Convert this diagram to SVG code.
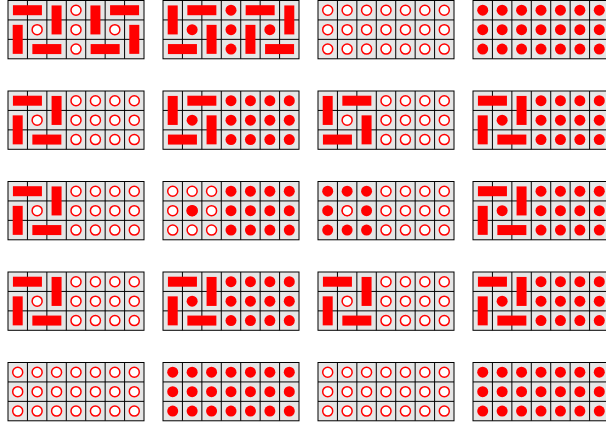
<svg xmlns="http://www.w3.org/2000/svg" xmlns:xlink="http://www.w3.org/1999/xlink" width="606" height="426" viewBox="0 0 606 426">
<style>
.bg{fill:#e6e6e6;stroke:#000;stroke-width:1}
.ln{stroke:#000;stroke-width:1}
.o{fill:#fff;stroke:#f00;stroke-width:1.5}
.f{fill:#f00}
.bar{fill:#f00}
</style>
<defs>
<g id="grid">
<rect class="bg" x="0" y="0" width="136" height="58.29"/>
<path class="ln" d="M19.43 0V58.29M38.86 0V58.29M58.29 0V58.29M77.72 0V58.29M97.15 0V58.29M116.58 0V58.29M0 19.43H136M0 38.86H136"/>
</g>
<circle id="o" class="o" r="5"/>
<circle id="f" class="f" r="5.5"/>
<rect id="h" class="bar" x="-14.5" y="-5" width="29" height="10"/>
<rect id="v" class="bar" x="-5" y="-14.5" width="10" height="29"/>
<g id="A">
<use href="#h" x="19.43" y="9.71"/><use href="#v" x="48.57" y="19.43"/><use href="#v" x="9.71" y="38.86"/><use href="#h" x="38.86" y="48.57"/>
</g>
<g id="B">
<use href="#v" x="9.71" y="19.43"/><use href="#h" x="38.86" y="9.71"/><use href="#v" x="48.57" y="38.86"/><use href="#h" x="19.43" y="48.57"/>
</g>
<g id="Am">
<use href="#h" x="116.58" y="9.71"/><use href="#v" x="87.43" y="19.43"/><use href="#v" x="126.29" y="38.86"/><use href="#h" x="97.15" y="48.57"/>
</g>
<g id="Bm">
<use href="#v" x="126.29" y="19.43"/><use href="#h" x="97.15" y="9.71"/><use href="#v" x="87.43" y="38.86"/><use href="#h" x="116.58" y="48.57"/>
</g>
<g id="colO3"><use href="#o" x="68" y="9.71"/><use href="#o" x="68" y="29.14"/><use href="#o" x="68" y="48.57"/></g>
<g id="colF3"><use href="#f" x="68" y="9.71"/><use href="#f" x="68" y="29.14"/><use href="#f" x="68" y="48.57"/></g>
<g id="rO"><use href="#colO3"/><use href="#colO3" x="19.43"/><use href="#colO3" x="38.86"/><use href="#colO3" x="58.29"/></g>
<g id="rF"><use href="#colF3"/><use href="#colF3" x="19.43"/><use href="#colF3" x="38.86"/><use href="#colF3" x="58.29"/></g>
<g id="lO"><use href="#colO3" x="-58.29"/><use href="#colO3" x="-38.86"/><use href="#colO3" x="-19.43"/></g>
<g id="lF"><use href="#colF3" x="-58.29"/><use href="#colF3" x="-38.86"/><use href="#colF3" x="-19.43"/></g>
</defs>

<g id="g11" transform="translate(8,0.5)"><use href="#grid"/><use href="#A"/><use href="#Am"/><use href="#colO3"/><use href="#o" x="29.14" y="29.14"/><use href="#o" x="106.86" y="29.14"/></g>
<g id="g12" transform="translate(163,0.5)"><use href="#grid"/><use href="#B"/><use href="#Bm"/><use href="#colF3"/><use href="#f" x="29.14" y="29.14"/><use href="#f" x="106.86" y="29.14"/></g>
<g id="g13" transform="translate(318,0.5)"><use href="#grid"/><use href="#lO"/><use href="#rO"/></g>
<g id="g14" transform="translate(473,0.5)"><use href="#grid"/><use href="#lF"/><use href="#rF"/></g>

<g id="g21" transform="translate(8,91)"><use href="#grid"/><use href="#A"/><use href="#o" x="29.14" y="29.14"/><use href="#rO"/></g>
<g id="g22" transform="translate(163,91)"><use href="#grid"/><use href="#B"/><use href="#f" x="29.14" y="29.14"/><use href="#rF"/></g>
<g id="g23" transform="translate(318,91)"><use href="#grid"/><use href="#B"/><use href="#o" x="29.14" y="29.14"/><use href="#rO"/></g>
<g id="g24" transform="translate(473,91)"><use href="#grid"/><use href="#A"/><use href="#f" x="29.14" y="29.14"/><use href="#rF"/></g>

<g id="g31" transform="translate(8,181.5)"><use href="#grid"/><use href="#A"/><use href="#o" x="29.14" y="29.14"/><use href="#rO"/></g>
<g id="g32" transform="translate(163,181.5)"><use href="#grid"/><use href="#lO"/><use href="#f" x="29.14" y="29.14"/><use href="#rF"/></g>
<g id="g33" transform="translate(318,181.5)"><use href="#grid"/><use href="#lF"/><use href="#o" x="29.14" y="29.14"/><use href="#rO"/></g>
<g id="g34" transform="translate(473,181.5)"><use href="#grid"/><use href="#A"/><use href="#f" x="29.14" y="29.14"/><use href="#rF"/></g>

<g id="g41" transform="translate(8,272)"><use href="#grid"/><use href="#A"/><use href="#o" x="29.14" y="29.14"/><use href="#rO"/></g>
<g id="g42" transform="translate(163,272)"><use href="#grid"/><use href="#A"/><use href="#f" x="29.14" y="29.14"/><use href="#rF"/></g>
<g id="g43" transform="translate(318,272)"><use href="#grid"/><use href="#A"/><use href="#o" x="29.14" y="29.14"/><use href="#rO"/></g>
<g id="g44" transform="translate(473,272)"><use href="#grid"/><use href="#A"/><use href="#f" x="29.14" y="29.14"/><use href="#rF"/></g>

<g id="g51" transform="translate(8,362.5)"><use href="#grid"/><use href="#lO"/><use href="#rO"/></g>
<g id="g52" transform="translate(163,362.5)"><use href="#grid"/><use href="#lF"/><use href="#rF"/></g>
<g id="g53" transform="translate(318,362.5)"><use href="#grid"/><use href="#lO"/><use href="#rO"/></g>
<g id="g54" transform="translate(473,362.5)"><use href="#grid"/><use href="#lF"/><use href="#rF"/></g>
<g id="connectors"/>
</svg>
